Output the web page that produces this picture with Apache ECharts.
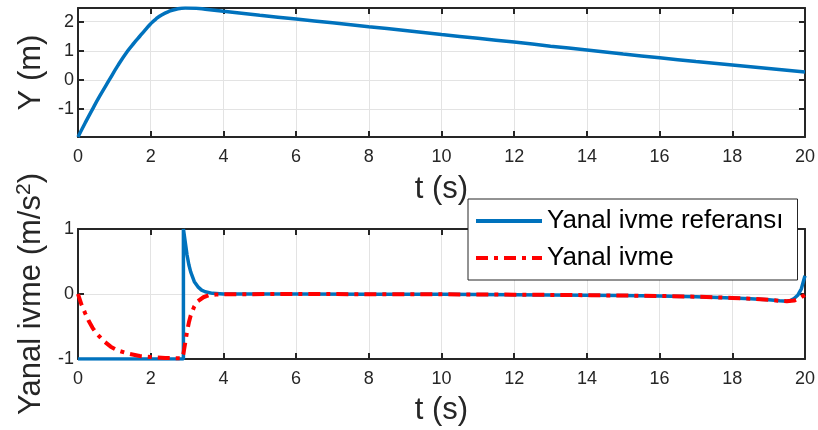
<!DOCTYPE html>
<html>
<head>
<meta charset="utf-8">
<script src="https://cdn.jsdelivr.net/npm/echarts@6/dist/echarts.min.js"></script>
<style>
  html, body { margin: 0; padding: 0; background: #fff; }
  #main { width: 818px; height: 430px; }
</style>
</head>
<body>
<div id="main"></div>
<script>
// ust grafik: Y (m)
const tY = [0, 0.2, 0.4, 0.6, 0.86, 1.1, 1.37, 1.55, 1.7, 1.85, 2.0, 2.15, 2.3, 2.5, 2.7, 2.95, 3.25, 3.5, 4, 4.5, 5, 6, 7, 8, 9, 10, 11, 12, 13, 14, 15, 16, 17, 18, 19, 20];
const yPos = [-1.96, -1.47, -1.0, -0.55, 0, 0.5, 1.0, 1.28, 1.5, 1.72, 1.93, 2.1, 2.23, 2.35, 2.43, 2.47, 2.46, 2.43, 2.36, 2.29, 2.22, 2.09, 1.96, 1.83, 1.7, 1.56, 1.43, 1.3, 1.16, 1.03, 0.89, 0.76, 0.63, 0.51, 0.39, 0.27];

// alt grafik: yanal ivme referansi
const tRef = [0, 2.9, 2.9, 2.95, 3.0, 3.05, 3.1, 3.2, 3.3, 3.4, 3.5, 3.7, 4, 6, 8, 10, 12, 14, 15, 16, 17, 18, 18.5, 19, 19.3, 19.5, 19.6, 19.7, 19.8, 19.9, 20];
const aRef = [-1, -1, 1, 0.8, 0.6, 0.45, 0.34, 0.19, 0.11, 0.06, 0.035, 0.01, 0, 0, -0.003, -0.005, -0.01, -0.018, -0.024, -0.03, -0.042, -0.06, -0.072, -0.09, -0.105, -0.11, -0.1, -0.07, -0.02, 0.08, 0.28];

// alt grafik: yanal ivme
const tAcc = [0, 0.1, 0.2, 0.3, 0.4, 0.5, 0.7, 0.9, 1.1, 1.4, 1.7, 2.0, 2.4, 2.85, 2.9, 2.95, 3.0, 3.05, 3.1, 3.2, 3.3, 3.45, 3.6, 3.8, 4, 6, 8, 10, 12, 14, 15, 16, 17, 18, 18.5, 19, 19.3, 19.5, 19.7, 19.8, 19.9, 20];
const aAcc = [0, -0.17, -0.3, -0.42, -0.52, -0.6, -0.72, -0.81, -0.87, -0.92, -0.955, -0.97, -0.985, -0.99, -0.92, -0.75, -0.58, -0.44, -0.33, -0.19, -0.11, -0.05, -0.02, -0.008, -0.004, 0, -0.003, -0.005, -0.01, -0.018, -0.024, -0.03, -0.042, -0.06, -0.072, -0.09, -0.105, -0.11, -0.1, -0.08, -0.05, -0.01];

const yTicksTop = [-1, 0, 1, 2];
const yTicksBottom = [-1, 0, 1];

const pairs = (xs, ys) => xs.map((x, i) => [x, ys[i]]);

const FONT = "'Liberation Sans', Arial, sans-serif";
const AX = '#262626';
const GRIDLINE = { show: true, lineStyle: { color: '#e3e3e3', width: 1 } };

function xAxisFor(grid, gap) {
    return [{
        type: 'value', gridIndex: grid, min: 0, max: 20, interval: 2,
        name: 't (s)', nameLocation: 'middle', nameGap: gap,
        nameTextStyle: { fontSize: 31, color: AX, fontFamily: FONT },
        axisLine: { show: true, onZero: false, lineStyle: { color: AX, width: 2 } },
        axisTick: { inside: true, length: 6, lineStyle: { color: AX, width: 2 } },
        axisLabel: { fontSize: 18, color: AX, fontFamily: FONT, margin: 11 },
        splitLine: GRIDLINE
    }, {
        type: 'value', gridIndex: grid, position: 'top', min: 0, max: 20, interval: 2,
        axisLine: { show: true, onZero: false, lineStyle: { color: AX, width: 2 } },
        axisTick: { inside: true, length: 6, lineStyle: { color: AX, width: 2 } },
        axisLabel: { show: false },
        splitLine: { show: false }
    }];
}

function yAxisFor(grid, min, max, ticks, name, gap) {
    return [{
        type: 'value', gridIndex: grid, min: min, max: max,
        name: name, nameLocation: 'middle', nameGap: gap, nameRotate: 90,
        nameTextStyle: {
            fontSize: 31, color: AX, fontFamily: FONT,
            rich: {
                a: { fontSize: 31, color: AX, fontFamily: FONT },
                sup: { fontSize: 21, color: AX, fontFamily: FONT, padding: [0, 0, 14, 0] }
            }
        },
        axisLine: { show: true, onZero: false, lineStyle: { color: AX, width: 2 } },
        axisTick: { inside: true, length: 6, customValues: ticks, lineStyle: { color: AX, width: 2 } },
        axisLabel: { fontSize: 18, color: AX, fontFamily: FONT, margin: 4, customValues: ticks },
        splitLine: GRIDLINE
    }, {
        type: 'value', gridIndex: grid, position: 'right', min: min, max: max,
        axisLine: { show: true, onZero: false, lineStyle: { color: AX, width: 2 } },
        axisTick: { inside: true, length: 6, customValues: ticks, lineStyle: { color: AX, width: 2 } },
        axisLabel: { show: false },
        splitLine: { show: false }
    }];
}

const chart = echarts.init(document.getElementById('main'));
chart.setOption({
    backgroundColor: '#fff',
    animation: false,
    grid: [
        { left: 78, right: 13, top: 8, height: 129 },
        { left: 78, right: 13, top: 229, height: 130 }
    ],
    xAxis: [...xAxisFor(0, 37), ...xAxisFor(1, 36)],
    yAxis: [...yAxisFor(0, -1.96, 2.47, yTicksTop, '{a|Y (m)}', 26),
            ...yAxisFor(1, -1, 1, yTicksBottom, '{a|Yanal ivme (m/s}{sup|2}{a|)}', 27)],
    legend: {
        orient: 'vertical',
        left: 468, top: 199,
        data: ['Yanal ivme referansı', 'Yanal ivme'],
        itemWidth: 66, itemHeight: 14, itemGap: 11,
        padding: [9, 14, 9, 6],
        backgroundColor: '#fff',
        borderColor: AX, borderWidth: 1,
        itemStyle: { opacity: 0 },
        lineStyle: { width: 4 },
        textStyle: { fontSize: 26, color: '#000', fontFamily: FONT },
        z: 10
    },
    series: [
        {
            name: 'Y', type: 'line', xAxisIndex: 0, yAxisIndex: 0,
            data: pairs(tY, yPos), showSymbol: false, symbol: 'none', smooth: 0.5,
            lineStyle: { color: '#0072BD', width: 3.5 }
        },
        {
            name: 'Yanal ivme referansı', type: 'line', xAxisIndex: 2, yAxisIndex: 2,
            data: pairs(tRef, aRef), showSymbol: false, symbol: 'none',
            itemStyle: { color: '#0072BD' },
            lineStyle: { color: '#0072BD', width: 3.5 }
        },
        {
            name: 'Yanal ivme', type: 'line', xAxisIndex: 2, yAxisIndex: 2,
            data: pairs(tAcc, aAcc), showSymbol: false, symbol: 'none',
            itemStyle: { color: '#FF0000' },
            lineStyle: { color: '#FF0000', width: 4, type: [12, 6, 4, 6] }
        }
    ]
});
</script>
</body>
</html>
